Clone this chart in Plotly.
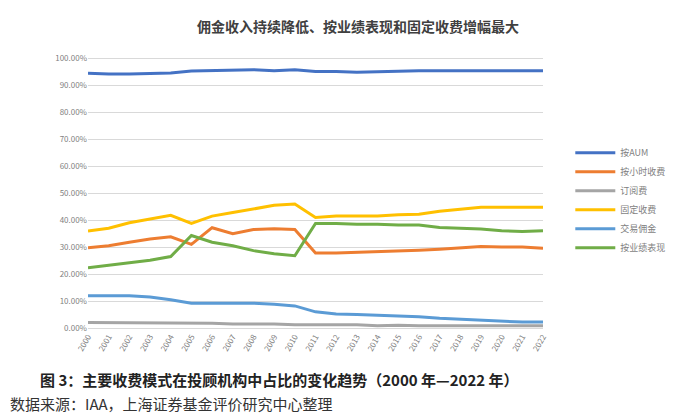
import plotly.graph_objects as go

years = [str(y) for y in range(2000, 2023)]
names = ["按AUM", "按小时收费", "订阅费", "固定收费", "交易佣金", "按业绩表现"]
colors = ["#4472C4", "#ED7D31", "#A5A5A5", "#FFC000", "#5B9BD5", "#70AD47"]
aum = [94.5,94.2,94.2,94.5,94.6,95.3,95.4,95.7,95.8,95.4,95.8,95.1,95.1,94.8,95.1,95.2,95.4,95.4,95.4,95.4,95.4,95.4,95.4]
hourly = [29.8,30.5,31.8,33,33.8,31,37.2,35,36.5,36.8,36.5,27.8,27.8,28,28.2,28.5,28.8,29.2,29.7,30.2,30,30,29.6]
subscription = [2,2,1.8,2,1.8,1.8,1.8,1.5,1.5,1.5,1.2,1.2,1.2,1.2,0.8,1,0.8,0.8,0.8,0.8,0.8,0.8,0.8]
fixed = [36,37,39,40.5,41.8,38.8,41.5,42.8,44.2,45.5,46,41,41.5,41.5,41.5,42,42.2,43.3,44,44.8,44.8,44.8,44.8]
commission = [12,12,12,11.5,10.5,9.2,9.2,9.2,9.2,8.8,8.2,6,5.2,5,4.7,4.4,4.2,3.6,3.2,3,2.6,2.2,2.2]
performance = [22.3,23.3,24.2,25.1,26.5,34.3,31.8,30.5,28.7,27.5,26.8,38.8,38.8,38.5,38.5,38.2,38.2,37.3,37,36.7,36.1,35.8,36.1]
series = [aum, hourly, subscription, fixed, commission, performance]
yticks = [0,10,20,30,40,50,60,70,80,90,100]

fig = go.Figure()
for n, c, s in zip(names, colors, series):
    fig.add_trace(go.Scatter(x=years, y=s, name=n, mode="lines",
                             line=dict(color=c, width=3)))

fig.update_layout(
    width=700, height=416, paper_bgcolor="white", plot_bgcolor="white",
    margin=dict(l=80, r=165, t=49, b=96),
    font=dict(family="Noto Sans CJK SC", color="#595959"),
    title=dict(text="<b>佣金收入持续降低、按业绩表现和固定收费增幅最大</b>", x=0.5, y=0.965,
               xanchor="center", font=dict(size=14, color="#404040")),
    legend=dict(x=1.06, y=0.7, yanchor="top", font=dict(size=9, color="#7f7f7f"),
                tracegroupgap=4, itemwidth=40),
    xaxis=dict(tickangle=-60, tickfont=dict(size=8, color="#7f7f7f"), showgrid=False,
               showline=True, linecolor="#d9d9d9"),
    yaxis=dict(range=[0, 100.5], tickvals=yticks, ticktext=[f"{v:.2f}%" for v in yticks],
               tickfont=dict(size=8, color="#7f7f7f"), gridcolor="#d9d9d9", zeroline=False),
)
fig.add_annotation(text="<b>图 3：主要收费模式在投顾机构中占比的变化趋势（2000 年—2022 年）</b>",
                   xref="paper", yref="paper", x=-0.11, y=-0.19, xanchor="left", yanchor="middle",
                   showarrow=False, font=dict(size=15, color="#222"))
fig.add_annotation(text="数据来源：IAA，上海证券基金评价研究中心整理",
                   xref="paper", yref="paper", x=-0.175, y=-0.28, xanchor="left", yanchor="middle",
                   showarrow=False, font=dict(size=15, color="#333"))
fig.write_html("out.html")
